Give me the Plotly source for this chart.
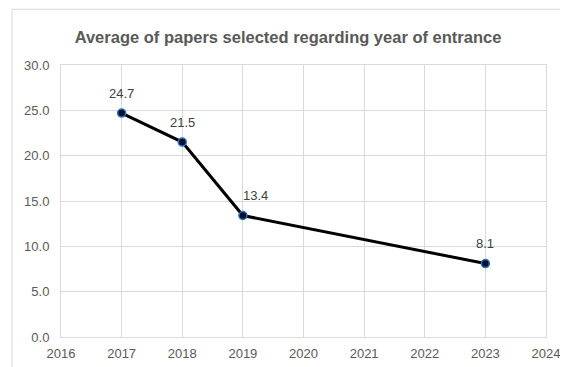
import plotly.graph_objects as go

years = [2017, 2018, 2019, 2023]
averages = [24.7, 21.5, 13.4, 8.1]
labels = ["24.7", "21.5", "13.4", "8.1"]
x_ticks = list(range(2016, 2025))
y_ticks = [0, 5, 10, 15, 20, 25, 30]
title = "Average of papers selected regarding year of entrance"

label_xshift = [0, 0, 13, 0]

fig = go.Figure()
fig.add_trace(go.Scatter(
    x=years, y=averages, mode="lines+markers",
    line=dict(color="black", width=3),
    marker=dict(size=8, color="#0a0f2a", line=dict(color="#2f6fc0", width=1.5)),
    cliponaxis=False,
))
for xv, yv, t, dx in zip(years, averages, labels, label_xshift):
    fig.add_annotation(x=xv, y=yv, text=t, showarrow=False, yshift=20, xshift=dx,
                       font=dict(family="Liberation Sans", size=13, color="#404040"))

fig.update_layout(
    width=560, height=359,
    margin=dict(l=53, r=22, t=57, b=30, autoexpand=False),
    paper_bgcolor="white", plot_bgcolor="white",
    showlegend=False,
    title=dict(text=title, x=0.5, xanchor="center", yref="container", y=0.919, yanchor="middle",
               font=dict(family="Liberation Sans", size=16.5, color="#595959", weight="bold")),
    font=dict(family="Liberation Sans", color="#595959", size=13),
)
fig.update_xaxes(range=[2016, 2024], tickvals=x_ticks, ticktext=[str(v) for v in x_ticks],
                 showgrid=True, gridcolor="#d9d9d9", gridwidth=1,
                 showline=True, linecolor="#d9d9d9", mirror=True, zeroline=False,
                 ticks="outside", ticklen=4, tickcolor="rgba(0,0,0,0)",
                 tickfont=dict(size=13, color="#595959"))
fig.update_yaxes(range=[0, 30], tickvals=y_ticks, ticktext=[f"{v:.1f}" for v in y_ticks],
                 showgrid=True, gridcolor="#d9d9d9", gridwidth=1,
                 showline=True, linecolor="#d9d9d9", mirror=True, zeroline=False,
                 ticks="outside", ticklen=8, tickcolor="rgba(0,0,0,0)",
                 tickfont=dict(size=13, color="#595959"))

fig.add_shape(type="line", xref="paper", yref="paper",
              x0=-0.101, x1=-0.101, y0=-0.2, y1=1.205,
              line=dict(color="#d9d9d9", width=1))
fig.add_shape(type="line", xref="paper", yref="paper",
              x0=-0.101, x1=1.2, y0=1.205, y1=1.205,
              line=dict(color="#d9d9d9", width=1))

fig.write_html("out.html")
